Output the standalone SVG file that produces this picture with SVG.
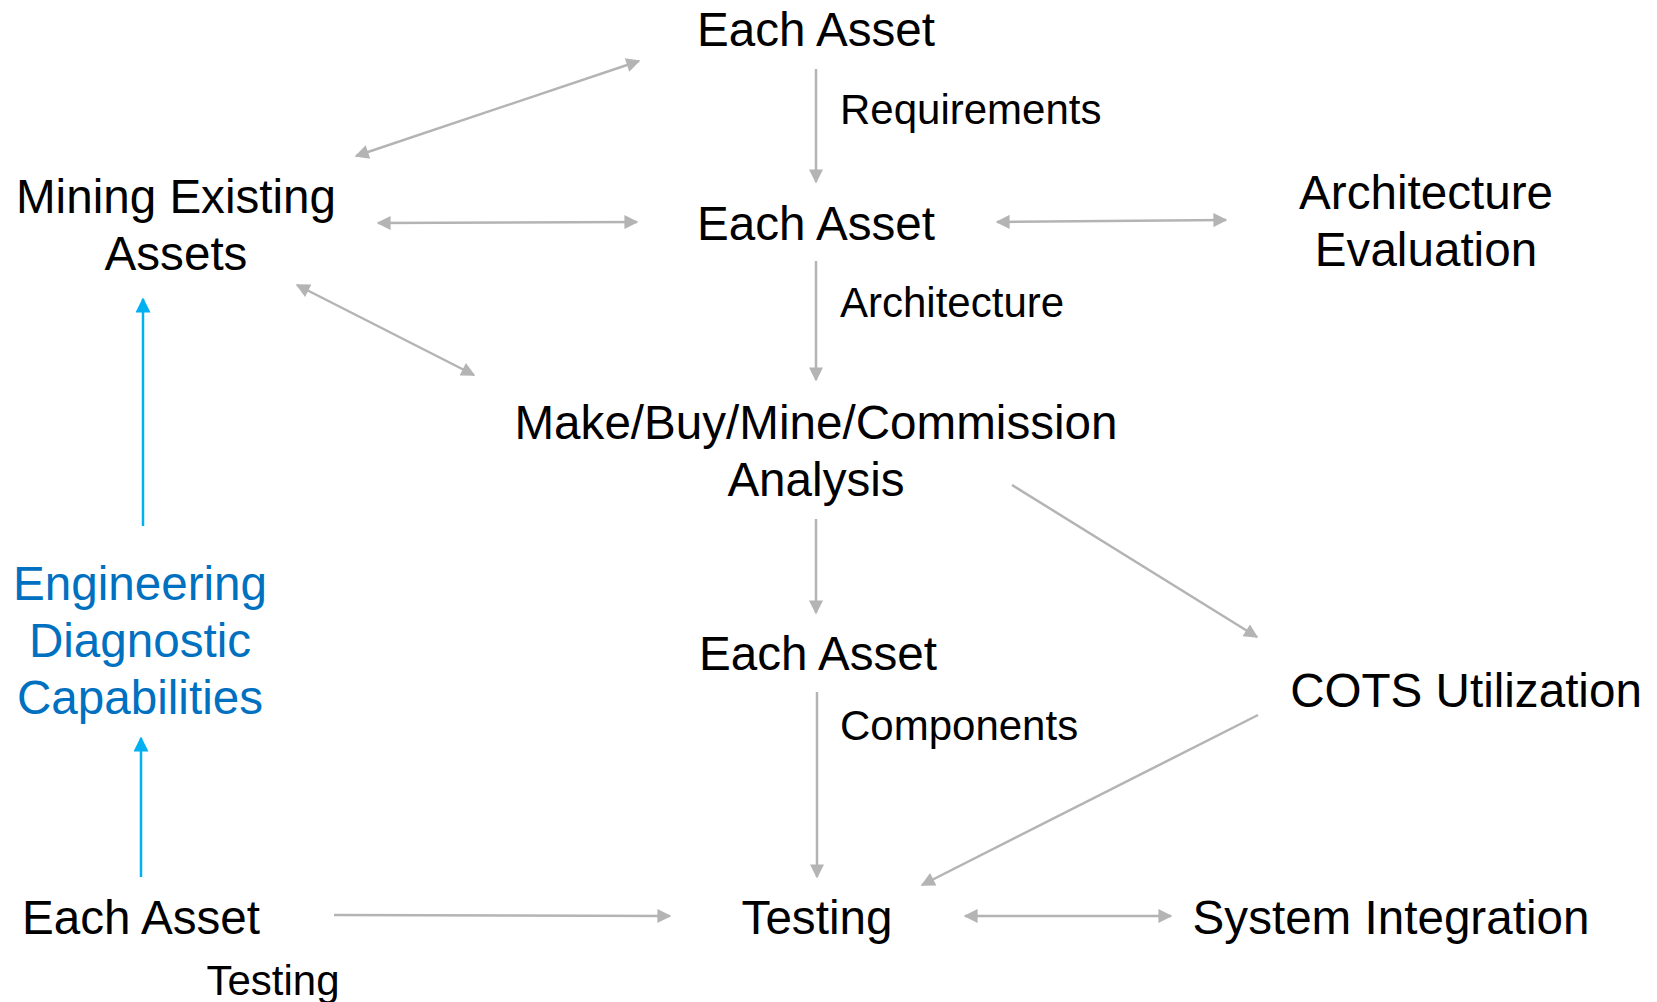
<svg xmlns="http://www.w3.org/2000/svg" width="1657" height="1002" viewBox="0 0 1657 1002">
<style>
text{font-family:"Liberation Sans",Arial,sans-serif;fill:#000;text-anchor:middle}
.n{font-size:47.6px}
.l{font-size:42px;text-anchor:start}
.b{fill:#0070C0}
.g{stroke:#B4B4B4;stroke-width:2.5;fill:none}
.c{stroke:#00B0F0;stroke-width:2.5;fill:none}
.g1{marker-end:url(#ag)}
.g2{marker-start:url(#ag);marker-end:url(#ag)}
.c1{marker-end:url(#ac)}
</style>
<defs>
<marker id="ag" viewBox="0 0 10 10" refX="9" refY="5" markerWidth="16" markerHeight="14" markerUnits="userSpaceOnUse" orient="auto-start-reverse"><path d="M0,0L10,5L0,10z" fill="#B4B4B4"/></marker>
<marker id="ac" viewBox="0 0 10 10" refX="9" refY="5" markerWidth="16" markerHeight="15" markerUnits="userSpaceOnUse" orient="auto"><path d="M0,0L10,5L0,10z" fill="#00B0F0"/></marker>
</defs>
<rect width="1657" height="1002" fill="#fff"/>
<g id="connectors">
<path class="g g2" d="M356,156L639,61"/>
<path class="g g2" d="M378,223L637,222"/>
<path class="g g2" d="M297,285L474,375"/>
<path class="g g1" d="M816,69L816,182"/>
<path class="g g1" d="M816,261L816,380"/>
<path class="g g2" d="M997,222L1226,220"/>
<path class="g g1" d="M816,519L816,613"/>
<path class="g g1" d="M1012,485L1257,637"/>
<path class="g g1" d="M817,692L817,877"/>
<path class="g g1" d="M1258,715L922,885"/>
<path class="g g2" d="M965,916L1171,916"/>
<path class="g g1" d="M334,915L670,916"/>
<path class="c c1" d="M141,877L141,738"/>
<path class="c c1" d="M143,526L143,299"/>
<text class="l" x="840" y="124">Requirements</text>
<text class="l" x="840" y="317">Architecture</text>
<text class="l" x="840" y="740">Components</text>
<text class="l" x="273" y="995" style="text-anchor:middle">Testing</text>
</g>
<g id="each-asset-1"><text class="n" x="816" y="46">Each Asset</text></g>
<g id="each-asset-2"><text class="n" x="816" y="240">Each Asset</text></g>
<g id="mining"><text class="n" x="176" y="213">Mining Existing</text><text class="n" x="176" y="270">Assets</text></g>
<g id="arch-eval"><text class="n" x="1426" y="209">Architecture</text><text class="n" x="1426" y="266">Evaluation</text></g>
<g id="make-buy"><text class="n" x="816" y="439">Make/Buy/Mine/Commission</text><text class="n" x="816" y="496">Analysis</text></g>
<g id="each-asset-3"><text class="n" x="818" y="670">Each Asset</text></g>
<g id="cots"><text class="n" x="1466" y="707">COTS Utilization</text></g>
<g id="testing"><text class="n" x="817" y="934">Testing</text></g>
<g id="system-integration"><text class="n" x="1391" y="934">System Integration</text></g>
<g id="engineering"><text class="n b" x="140" y="600">Engineering</text><text class="n b" x="140" y="657">Diagnostic</text><text class="n b" x="140" y="714">Capabilities</text></g>
<g id="each-asset-4"><text class="n" x="141" y="934">Each Asset</text></g>
</svg>
